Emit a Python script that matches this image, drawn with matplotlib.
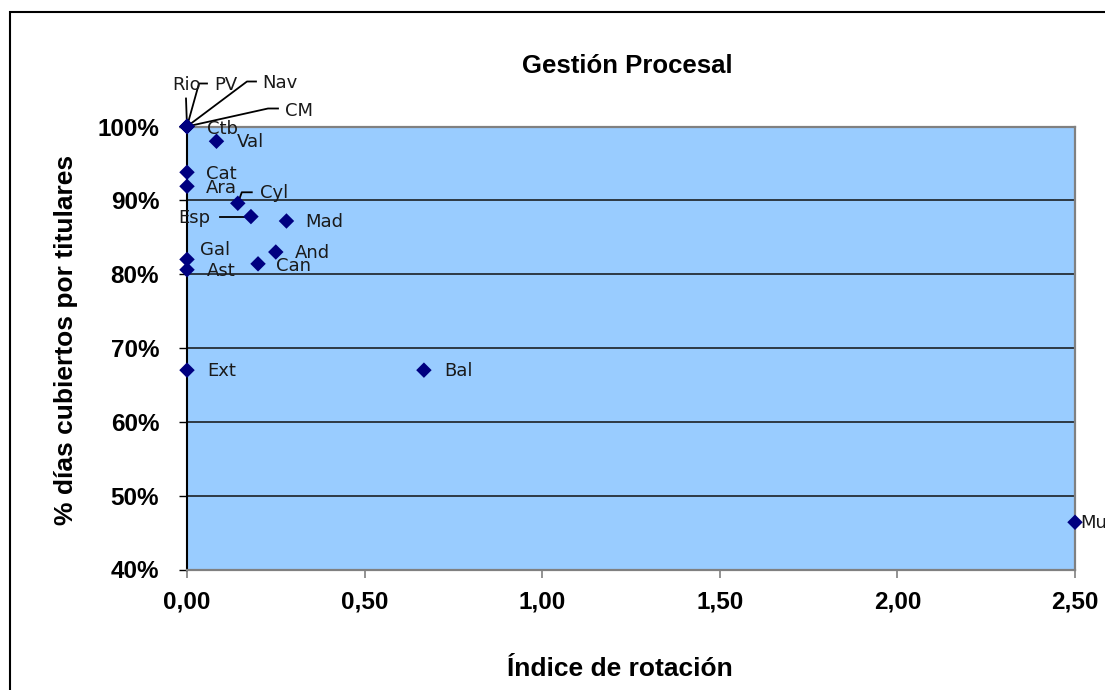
import matplotlib
matplotlib.use("Agg")
import matplotlib.pyplot as plt
from matplotlib.ticker import FuncFormatter, MultipleLocator
from matplotlib.patches import Rectangle
import numpy as np

# comunidades, índice de rotación y % días cubiertos por titulares
nombres = ["Rio", "PV", "Nav", "CM", "Ctb", "Val", "Cat", "Ara", "Cyl", "Esp",
           "Mad", "Gal", "Ast", "And", "Can", "Ext", "Bal", "Mur"]
rotacion = [0.0, 0.0, 0.0, 0.0, 0.0, 0.083, 0.0, 0.0, 0.143, 0.18,
            0.28, 0.0, 0.0, 0.25, 0.20, 0.0, 0.667, 2.50]
cubiertos = [100.0, 100.0, 100.0, 100.0, 100.0, 98.0, 93.8, 91.9, 89.6, 87.8,
             87.2, 82.0, 80.6, 83.0, 81.4, 67.0, 67.0, 46.4]

# posicion de las etiquetas (pixeles respecto al punto) y lineas guia
offsets = {
    "Rio": (-15, -42), "PV": (27, -42), "Nav": (75, -44), "CM": (98, -16),
    "Ctb": (20, 2), "Val": (20, 1), "Cat": (19, 2), "Ara": (19, 2),
    "Cyl": (22, -10), "Esp": (-73, 1), "Mad": (19, 1), "Gal": (13, -9),
    "Ast": (20, 1), "And": (19, 1), "Can": (18, 2), "Ext": (20, 1),
    "Bal": (20, 1), "Mur": (5, 1),
}
guias = {
    "Rio": [(0, 0), (-1, -28)],
    "PV": [(0, 0), (12, -43), (20, -43)],
    "Nav": [(0, 0), (60, -45), (69, -45)],
    "CM": [(0, 0), (81, -18), (91, -18)],
    "Cyl": [(0, 0), (4, -11), (14, -11)],
    "Esp": [(-31, 0), (-2, 0)],
}

W, H = 1105, 690
fig = plt.figure(figsize=(W / 100, H / 100), dpi=100)
ax = fig.add_axes([187 / W, 1 - 569.5 / H, (1075 - 187) / W, (569.5 - 126.5) / H])
ax.set_facecolor("#99ccff")

ax.set_xlim(0, 2.5)
ax.set_ylim(40, 100)
ax.xaxis.set_major_locator(MultipleLocator(0.5))
ax.yaxis.set_major_locator(MultipleLocator(10))
ax.xaxis.set_major_formatter(FuncFormatter(lambda v, p: f"{v:.2f}".replace(".", ",")))
ax.yaxis.set_major_formatter(FuncFormatter(lambda v, p: f"{v:.0f}%"))

ax.set_axisbelow(True)
ax.grid(axis="y", color="#111111", lw=1.1)

for s in ["top", "right", "bottom"]:
    ax.spines[s].set_color("#808080")
    ax.spines[s].set_linewidth(1.6)
ax.spines["left"].set_color("black")
ax.spines["left"].set_linewidth(1.5)

ax.tick_params(axis="x", direction="out", length=6, width=1.2, color="#808080", pad=9)
ax.tick_params(axis="y", direction="out", length=6, width=1.0, color="black", pad=14)
for lab in ax.get_xticklabels() + ax.get_yticklabels():
    lab.set_fontfamily("Liberation Sans")
    lab.set_fontweight("bold")
    lab.set_fontsize(17.5)

# lineas guia
fig.canvas.draw()
for nombre, pts in guias.items():
    i = nombres.index(nombre)
    base = ax.transData.transform((rotacion[i], cubiertos[i]))
    disp = np.array([(base[0] + ox, base[1] - oy) for ox, oy in pts])
    dat = ax.transData.inverted().transform(disp)
    ax.plot(dat[:, 0], dat[:, 1], color="black", lw=1.3, clip_on=False, zorder=3)

ax.scatter(rotacion, cubiertos, marker="D", s=62, color="#000080",
           edgecolors="none", clip_on=False, zorder=4)

for nombre, x, y in zip(nombres, rotacion, cubiertos):
    dx, dy = offsets[nombre]
    ax.annotate(nombre, (x, y), xytext=(dx, -dy), textcoords="offset pixels",
                ha="left", va="center", fontsize=13, family="DejaVu Sans",
                color="#1a1a1a", annotation_clip=False, zorder=5)

fig.text(627 / W, 1 - 66 / H, "Gestión Procesal", ha="center", va="center",
         family="Liberation Sans", fontweight="bold", fontsize=18.5)
fig.text(620 / W, 1 - 669 / H, "Índice de rotación", ha="center", va="center",
         family="Liberation Sans", fontweight="bold", fontsize=19)
fig.text(66 / W, 1 - 340 / H, "% días cubiertos por titulares", ha="center", va="center",
         rotation=90, family="Liberation Sans", fontweight="bold", fontsize=19)

# marco exterior del grafico
fig.patches.append(Rectangle((10 / W, -0.1), 1.2, 1.1 - 12 / H,
                             transform=fig.transFigure, fill=False,
                             edgecolor="black", lw=1.5))

fig.savefig("out.png", dpi=100)
